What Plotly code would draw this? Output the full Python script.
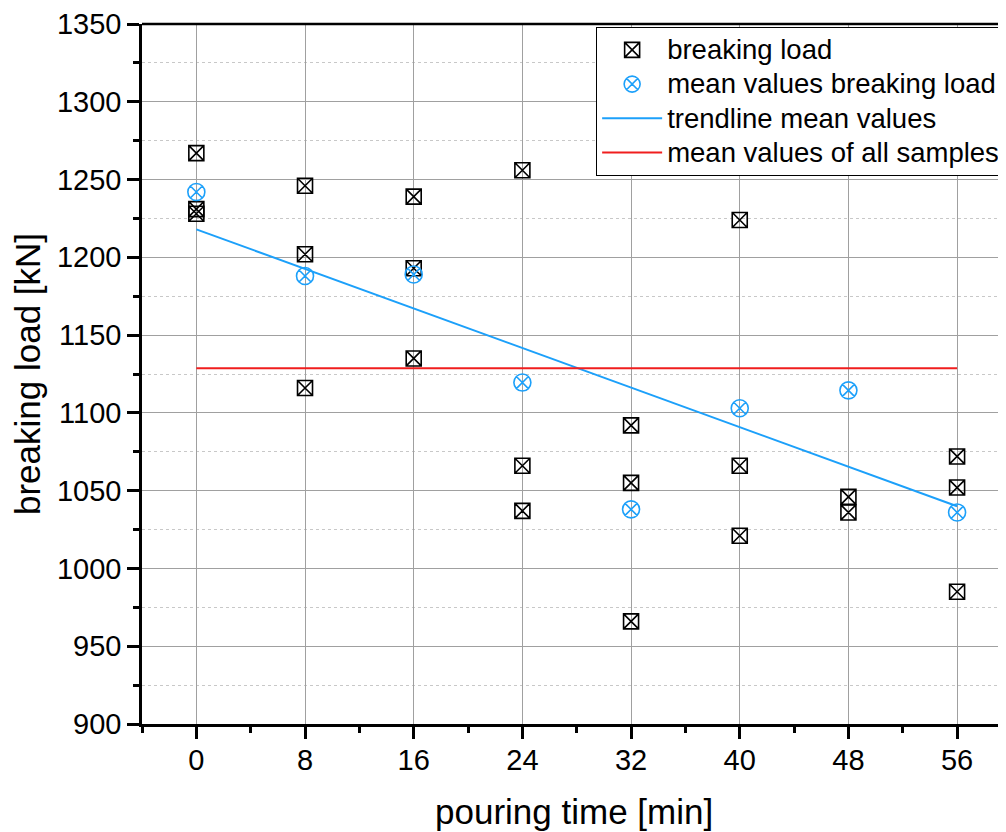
import plotly.graph_objects as go

# pouring time [min] and individual breaking loads [kN]
sample_x = [0, 0, 0, 8, 8, 8, 16, 16, 16, 24, 24, 24,
            32, 32, 32, 40, 40, 40, 48, 48, 48, 56, 56, 56]
sample_y = [1267, 1231, 1228, 1246, 1202, 1116, 1239, 1193, 1135,
            1256, 1066, 1037, 1092, 1055, 966, 1224, 1066, 1021,
            1261, 1046, 1036, 1072, 1052, 985]

# mean values per pouring time
mean_x = [0, 8, 16, 24, 32, 40, 48, 56]
mean_y = [1242, 1188, 1189, 1119.5, 1038, 1103, 1114.5, 1036]

# trendline of mean values (end points)
trend_x = [0, 56]
trend_y = [1218, 1040]

# mean value of all samples
overall_x = [0, 56]
overall_y = [1128.7, 1128.7]

x_ticks = [0, 8, 16, 24, 32, 40, 48, 56]
legend_names = ["breaking load", "mean values breaking load",
                "trendline mean values", "mean values of all samples"]
x_title = "pouring time [min]"
y_title = "breaking load [kN]"

BLUE = "rgb(28,160,250)"
FONT = "Arial, Liberation Sans, sans-serif"


def lg(name):
    return '<span style="font-size:27.5px">' + name + '</span>'


fig = go.Figure()
fig.add_trace(go.Scatter(
    x=sample_x, y=sample_y, mode="markers", name=lg(legend_names[0]),
    marker=dict(symbol="square-x-open", size=15, color="black",
                line=dict(width=1.6, color="black"))))
fig.add_trace(go.Scatter(
    x=mean_x, y=mean_y, mode="markers", name=lg(legend_names[1]),
    marker=dict(symbol="circle-x-open", size=17, color=BLUE,
                line=dict(width=1.6, color=BLUE))))
fig.add_trace(go.Scatter(
    x=trend_x, y=trend_y, mode="lines", name=lg(legend_names[2]),
    line=dict(color=BLUE, width=2)))
fig.add_trace(go.Scatter(
    x=overall_x, y=overall_y, mode="lines", name=lg(legend_names[3]),
    line=dict(color="rgb(240,30,30)", width=2)))

fig.update_layout(
    width=998, height=824,
    margin=dict(l=134, r=0, t=16, b=108),
    paper_bgcolor="white", plot_bgcolor="white",
    font=dict(family=FONT, color="black", size=28),
    legend=dict(
        x=0.999, y=0.996, xanchor="right", yanchor="top",
        bgcolor="white", bordercolor="black", borderwidth=1,
        font=dict(size=24, family=FONT), itemwidth=60, tracegroupgap=0,
    ),
    showlegend=True,
)

fig.update_xaxes(
    range=[-4, 59.6], tickmode="array", tickvals=x_ticks,
    ticktext=[str(v) for v in x_ticks],
    ticks="outside", ticklen=12, tickwidth=2.5, tickcolor="black",
    showline=True, linecolor="black", linewidth=2.5,
    showgrid=True, gridcolor="rgb(160,160,160)", gridwidth=1,
    zeroline=False, ticklabelstandoff=-4,
    tickfont=dict(size=29, family=FONT),
    minor=dict(dtick=4, tick0=0, ticks="outside", ticklen=6, tickwidth=2.5,
               tickcolor="black", showgrid=False),
)
fig.update_yaxes(
    range=[900, 1350], dtick=50, tick0=900,
    ticks="outside", ticklen=12, tickwidth=2.5, tickcolor="black",
    showline=True, linecolor="black", linewidth=2.5,
    showgrid=True, gridcolor="rgb(160,160,160)", gridwidth=1,
    zeroline=False,
    tickfont=dict(size=29, family=FONT),
    title=dict(text=y_title, font=dict(size=35, family=FONT), standoff=6),
    minor=dict(dtick=25, tick0=900, ticks="outside", ticklen=6, tickwidth=2.5,
               tickcolor="black", showgrid=True, gridcolor="rgb(200,200,200)",
               griddash="dot", gridwidth=1),
)

# x axis title
fig.add_annotation(text=x_title, xref="paper", yref="paper", x=0.5, y=0,
                   xanchor="center", yanchor="middle", yshift=-87,
                   showarrow=False, font=dict(size=35, family=FONT, color="black"))

# top frame line
fig.add_shape(type="line", xref="paper", yref="paper", x0=0, x1=1, y0=1, y1=1,
              line=dict(color="black", width=2.5), layer="above")

fig.write_html("out.html")
